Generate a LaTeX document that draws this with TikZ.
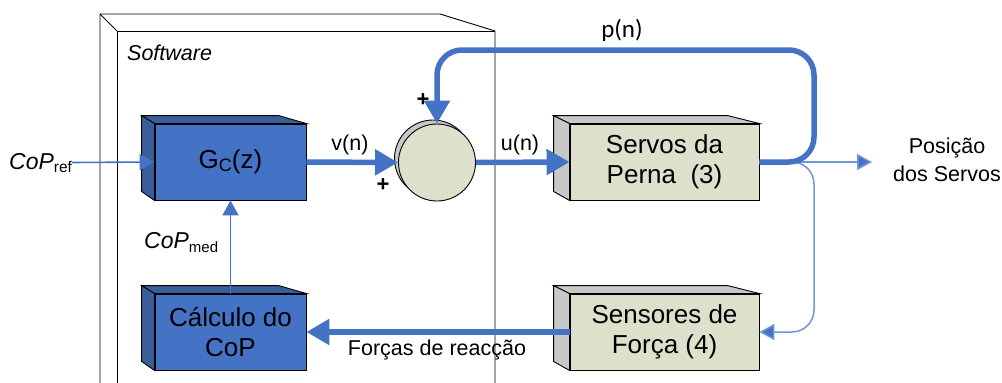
\documentclass[tikz,border=0pt]{standalone}
\usepackage{fontspec}
\setmainfont{Liberation Sans}
\newfontfamily\carlito{Carlito}
\usetikzlibrary{arrows.meta,calc}
\definecolor{bluefront}{HTML}{4472C4}
\definecolor{blueside}{HTML}{3A5F98}
\definecolor{beige}{HTML}{DDE1CB}
\definecolor{greyside}{HTML}{C8C8C8}
\definecolor{lineblue}{HTML}{4472C4}
\definecolor{lightline}{HTML}{6F97D6}
\tikzset{
  blockbox/.style={draw=black,line width=0.9pt,inner sep=0pt,align=center,
    font=\fontsize{26}{30}\selectfont},
  bluebox/.style={blockbox,fill=bluefront,minimum width=151pt,minimum height=76pt},
  beigebox/.style={blockbox,fill=beige,minimum width=189pt,minimum height=76pt},
  thickarrow/.style={draw=lineblue,line width=5.5pt,-{Triangle[length=23pt,width=25pt]}},
  thickline/.style={draw=lineblue,line width=5.5pt},
  thinarrow/.style={draw=lineblue,line width=1.6pt,-{Triangle[length=15pt,width=16pt]}},
  lightarrow/.style={draw=lightline,line width=1.5pt,-{Triangle[length=15pt,width=16pt,fill=lineblue]}},
  lbl/.style={font=\fontsize{21.5}{25}\selectfont,inner sep=0pt},
  plus/.style={font=\fontsize{22}{22}\selectfont\bfseries,inner sep=0pt},
  frame/.style={draw=black,line width=0.9pt}
}
\newcommand\boxsides[4]{%
  \filldraw[fill=#4,draw=black,line width=0.9pt] (#1.north west) -- ++(#2,-8) -- ($(#1.north east)+(#3,-8)$) -- (#1.north east) -- cycle;
  \filldraw[fill=#4,draw=black,line width=0.9pt] (#1.north west) -- ++(#2,-8) -- ($(#1.south west)+(#2,-9)$) -- (#1.south west) -- cycle;
}
\begin{document}
\begin{tikzpicture}[x=1pt,y=-1pt]
\useasboundingbox (0,0) rectangle (1002,383);
% Software frame
\draw[frame] (100,383) -- (100,14) -- (440,14) -- (495,31) -- (495,383);
\draw[frame] (117,383) -- (117,31) -- (495,31);
\draw[frame] (100,14) -- (117,31);
\node[lbl,font=\fontsize{21.5}{25}\selectfont\itshape,anchor=base west] (sw) at (127,60) {Software};

% blocks
\node[bluebox] (gc) at (230.5,162) {G\raisebox{-3pt}{\fontsize{18}{18}\selectfont C}(z)};
\boxsides{gc}{-13}{-28}{blueside}
\node[bluebox] (calc) at (230.5,332) {Cálculo do\\CoP};
\boxsides{calc}{-13}{-28}{blueside}
\node[beigebox] (servos) at (664.5,162) {Servos da\\Perna\ \ (3)};
\boxsides{servos}{-16}{-32}{greyside}
\node[beigebox] (sens) at (664.5,332) {Sensores de\\Força (4)};
\boxsides{sens}{-16}{-32}{greyside}

% summing junction (cylinder)
\filldraw[fill=greyside,draw=black,line width=0.9pt] (433,158.5) circle (38.5);
\node[circle,draw=black,line width=0.9pt,fill=beige,minimum size=77pt,inner sep=0pt] (sum) at (437,162.5) {};

% labels
\node[lbl,anchor=base west] (copref) at (9,169) {\fontsize{23}{23}\selectfont\itshape CoP\raisebox{-3pt}{\fontsize{15.5}{15.5}\selectfont\upshape ref}};
\node[lbl,anchor=base west] (copmed) at (144,248) {\fontsize{23}{23}\selectfont\itshape CoP\raisebox{-4pt}{\fontsize{15}{15}\selectfont\upshape med}};
\node[lbl] (vn) at (350,145) {v(n)};
\node[lbl] (un) at (520,145) {u(n)};
\node[plus] (p1) at (383,185) {+};
\node[plus] (p2) at (423,100) {+};
\node[lbl,font=\carlito\fontsize{25}{25}\selectfont] (pn) at (622,30) {p(n)};
\node[lbl] (forc) at (437,350) {Forças de reacção};
\node[lbl,align=center,font=\fontsize{21.5}{28}\selectfont] (pos) at (947,160) {Posição\\dos Servos};

\coordinate (crefend) at (72,162.5);
\coordinate (posarrow) at (872,162);
\coordinate (loopr) at (814,50);
\coordinate (branch) at (814,332);

% thin connectors
\draw[thinarrow] (crefend) -- (gc.west);
\draw[thinarrow] (calc.north) -- (gc.south);
\draw[lightarrow] (servos.east) -- (posarrow);
\draw[lightarrow,rounded corners=22pt] (servos.east) -| (branch) -- (sens.east);

% thick connectors
\draw[thickarrow] (gc.east) -- (sum.west);
\draw[thickarrow] (sum.east) -- (servos.west);
\draw[thickarrow,rounded corners=25pt] (servos.east) -| (loopr) -| (sum.north);
\draw[thickarrow] (sens.west) -- (calc.east);
\end{tikzpicture}
\end{document}
